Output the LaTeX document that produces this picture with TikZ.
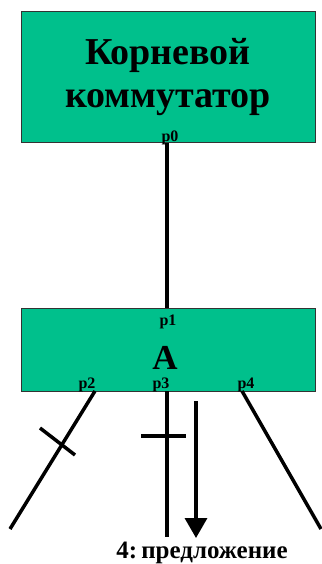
\documentclass[tikz,border=0pt]{standalone}
\usepackage{fontspec}
\setmainfont{Liberation Serif}
\usetikzlibrary{arrows.meta}
\definecolor{boxgreen}{RGB}{0,192,140}
\tikzset{
  swbox/.style={draw=black!80, line width=1pt, fill=boxgreen, inner sep=0pt},
  port/.style={font=\bfseries\fontsize{16}{16}\selectfont, inner sep=0pt, anchor=base},
  wire/.style={line width=3.5pt, black}
}
\begin{document}
\begin{tikzpicture}[x=1pt, y=-1pt]
  \useasboundingbox (0,0) rectangle (321,564);
  % коммутаторы
  \node[swbox, minimum width=294pt, minimum height=131pt, align=center,
        font=\bfseries\fontsize{38}{43}\selectfont] (root) at (168,77.5) {Корневой\\коммутатор};
  \node[swbox, minimum width=294pt, minimum height=83pt] (A) at (168,349.5) {};
  \node[font=\bfseries\fontsize{35}{35}\selectfont, inner sep=0pt, anchor=base] (Alabel) at (165,369) {A};
  % порты
  \node[port] (p0) at (170,142) {p0};
  \node[port] (p1) at (168,325) {p1};
  \node[port] (p2) at (87,388) {p2};
  \node[port] (p3) at (161,388) {p3};
  \node[port] (p4) at (246,388) {p4};
  % концы линий
  \coordinate (top0) at (167,143);
  \coordinate (top1) at (167,308);
  \coordinate (a2) at (95,391);
  \coordinate (b2) at (10,529);
  \coordinate (a3) at (167,391);
  \coordinate (b3) at (167,537);
  \coordinate (a4) at (242,391);
  \coordinate (b4) at (321,529);
  \coordinate (m2a) at (40,428);
  \coordinate (m2b) at (75,455);
  \coordinate (m3a) at (141,436);
  \coordinate (m3b) at (186,436);
  \coordinate (arra) at (196,401);
  \coordinate (arrb) at (196,538);
  % соединения
  \draw[wire] (top0) -- (top1);
  \draw[wire] (a2) -- (b2);
  \draw[wire] (a3) -- (b3);
  \draw[wire] (a4) -- (b4);
  % блокировка
  \draw[wire] (m2a) -- (m2b);
  \draw[wire] (m3a) -- (m3b);
  % сообщение
  \draw[wire, -{Triangle[width=22pt, length=20pt]}] (arra) -- (arrb);
  \node[font=\bfseries\fontsize{25}{25}\selectfont, inner sep=0pt, anchor=base] (msg) at (202,558) {4:\,предложение};
\end{tikzpicture}
\end{document}
